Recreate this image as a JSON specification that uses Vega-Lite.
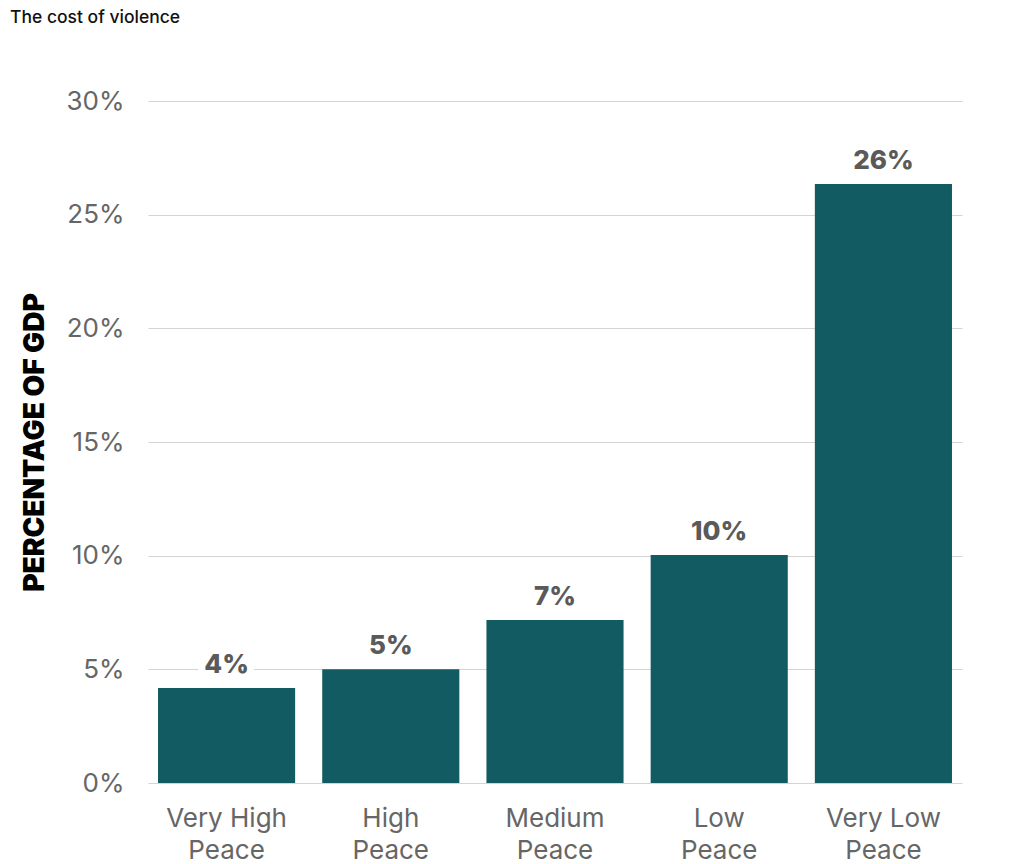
{
  "$schema": "https://vega.github.io/schema/vega-lite/v6.json",
  "width": 814,
  "height": 682,
  "autosize": {"type": "none"},
  "padding": {"left": 148, "top": 101, "right": 50, "bottom": 81},
  "background": "white",
  "title": {
    "text": "The cost of violence",
    "anchor": "start",
    "frame": "group",
    "dx": -138,
    "offset": 62,
    "fontSize": 17.5,
    "font": "Inter",
    "fontWeight": 500,
    "color": "#111111"
  },
  "data": {
    "values": [
      {"category": "Very High Peace", "value": 0.0418},
      {"category": "High Peace", "value": 0.0500},
      {"category": "Medium Peace", "value": 0.0717},
      {"category": "Low Peace", "value": 0.1003},
      {"category": "Very Low Peace", "value": 0.2635}
    ]
  },
  "encoding": {
    "x": {
      "field": "category",
      "type": "nominal",
      "sort": null,
      "scale": {"paddingInner": 0.165, "paddingOuter": 0.061},
      "axis": {
        "title": null,
        "labelAngle": 0,
        "ticks": false,
        "domain": false,
        "labelFont": "Inter",
        "labelFontSize": 26,
        "labelColor": "#666666",
        "labelPadding": 22,
        "labelLineHeight": 32,
        "labelExpr": "[replace(datum.label, ' Peace', ''), 'Peace']"
      }
    },
    "y": {
      "field": "value",
      "type": "quantitative",
      "scale": {"domain": [0, 0.3]},
      "axis": {
        "title": "PERCENTAGE OF GDP",
        "titleFont": "Inter",
        "titleFontSize": 28,
        "titleFontWeight": 900,
        "titleColor": "#000000",
        "titlePadding": 17,
        "format": ".0%",
        "values": [0, 0.05, 0.1, 0.15, 0.2, 0.25, 0.3],
        "ticks": false,
        "domain": false,
        "labelFont": "Inter",
        "labelFontSize": 26,
        "labelColor": "#666666",
        "labelPadding": 24,
        "gridColor": "#d4d4d4",
        "gridWidth": 1.2
      }
    }
  },
  "layer": [
    {"mark": {"type": "bar", "color": "#135b63"}},
    {
      "mark": {"type": "text", "baseline": "bottom", "dy": -10, "font": "Inter", "fontSize": 26, "fontWeight": 800, "stroke": "white", "strokeWidth": 14, "strokeJoin": "round"},
      "encoding": {"text": {"field": "value", "format": ".0%"}}
    },
    {
      "mark": {"type": "text", "baseline": "bottom", "dy": -10, "font": "Inter", "fontSize": 26, "fontWeight": 800, "color": "#5a5a5a"},
      "encoding": {"text": {"field": "value", "format": ".0%"}}
    }
  ],
  "config": {"view": {"stroke": null}}
}
